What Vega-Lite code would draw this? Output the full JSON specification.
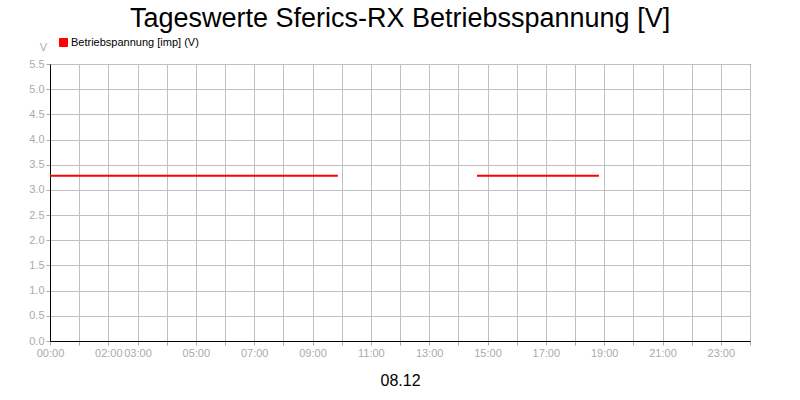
{
  "$schema": "https://vega.github.io/schema/vega-lite/v6.json",
  "width": 700,
  "height": 277,
  "autosize": "none",
  "padding": {"left": 50, "top": 64, "right": 50, "bottom": 59},
  "background": "white",
  "title": {"text": "Tageswerte Sferics-RX Betriebsspannung [V]", "font": "Liberation Sans", "fontSize": 27, "fontWeight": "normal", "color": "black", "anchor": "middle", "offset": 4},
  "config": {
    "view": {"stroke": "black", "strokeWidth": 1},
    "font": "Liberation Sans"
  },
  "data": {"values": [
    {"hour": 0, "value": 3.28, "seg": 1, "series": "Betriebspannung [imp] (V)"},
    {"hour": 4, "value": 3.28, "seg": 1, "series": "Betriebspannung [imp] (V)"},
    {"hour": 9.87, "value": 3.28, "seg": 1, "series": "Betriebspannung [imp] (V)"},
    {"hour": 14.64, "value": 3.28, "seg": 2, "series": "Betriebspannung [imp] (V)"},
    {"hour": 18.82, "value": 3.28, "seg": 2, "series": "Betriebspannung [imp] (V)"}
  ]},
  "mark": {"type": "line", "strokeWidth": 2},
  "encoding": {
    "x": {
      "field": "hour", "type": "quantitative",
      "scale": {"domain": [0, 24], "nice": false, "zero": false},
      "axis": {
        "values": [0,1,2,3,4,5,6,7,8,9,10,11,12,13,14,15,16,17,18,19,20,21,22,23,24],
        "labelExpr": "indexof([0,2,3,5,7,9,11,13,15,17,19,21,23], datum.value) >= 0 ? (datum.value < 10 ? '0' : '') + datum.value + ':00' : ''",
        "labelColor": "#aaaaaa", "labelFontSize": 11, "labelPadding": 2, "labelFlush": false, "labelOverlap": false,
        "tickColor": "#aaaaaa", "tickSize": 4,
        "domainColor": "black",
        "gridColor": "#c0c0c0", "gridOpacity": 1,
        "title": "08.12", "titleColor": "black", "titleFontSize": 16, "titleFontWeight": "normal",
        "titleY": 39, "titleBaseline": "middle"
      }
    },
    "y": {
      "field": "value", "type": "quantitative",
      "scale": {"domain": [0, 5.5], "nice": false},
      "axis": {
        "values": [0,0.5,1,1.5,2,2.5,3,3.5,4,4.5,5,5.5],
        "format": ".1f",
        "labelColor": "#aaaaaa", "labelFontSize": 11, "labelPadding": 2,
        "tickColor": "#aaaaaa", "tickSize": 4,
        "domainColor": "black",
        "gridColor": "#c0c0c0", "gridOpacity": 1,
        "title": "V", "titleAngle": 0, "titleX": -7, "titleY": -17,
        "titleColor": "#aaaaaa", "titleFontSize": 11, "titleFontWeight": "normal",
        "titleAlign": "center", "titleBaseline": "middle"
      }
    },
    "detail": {"field": "seg"},
    "color": {
      "field": "series", "type": "nominal",
      "scale": {"range": ["#ff0000"]},
      "legend": {
        "orient": "none", "legendX": 8, "legendY": -27, "title": null,
        "symbolType": "square", "symbolSize": 64, "symbolStrokeColor": "black", "symbolStrokeWidth": 1, "symbolFillColor": "#ff0000",
        "labelFontSize": 11, "labelColor": "black", "labelOffset": 2
      }
    }
  }
}
